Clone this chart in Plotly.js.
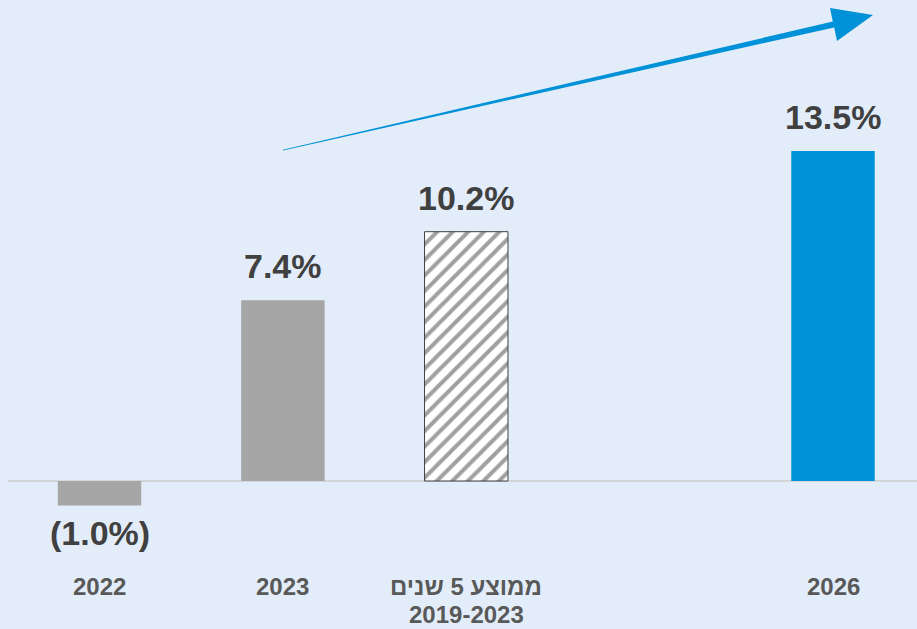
<!DOCTYPE html>
<html>
<head>
<meta charset="utf-8">
<script src="https://cdn.plot.ly/plotly-3.0.1.min.js"></script>
<style>
html,body{margin:0;padding:0;background:#e3edf9;}
#chart{width:917px;height:629px;}
</style>
</head>
<body>
<div id="chart"></div>
<script>
// Data
const positions = [0, 1, 2, 4];
const categoryLabels = ['2022', '2023', 'ממוצע 5 שנים<br>2019-2023', '2026'];
const values = [-1.0, 7.4, 10.2, 13.5];
const valueLabels = ['(1.0%)', '7.4%', '10.2%', '13.5%'];
const hatched = [false, false, true, false];

const W = 917, H = 629;
const mT = 0, mB = 69, mL = 0, mR = 0;
const plotH = H - mT - mB;
const BG = '#e3edf9';
const BLUE = '#0092d8';
const GREY = '#a6a6a6';
const FONT = 'Liberation Sans, Arial, sans-serif';
const barColors = [GREY, GREY, '#ffffff', BLUE];

function px(x){ return (x - mL) / (W - mL - mR); }
function py(y){ return (H - mB - y) / plotH; }

// decorative tapered arrow (pixel geometry -> paper coords)
const arrowPts = [
  [283.1, 150.4], [834.2, 27.4], [837, 41], [873, 15], [830, 8], [832.8, 21.6], [282.9, 149.8]
];
const arrowPath = 'M ' + arrowPts.map(p => px(p[0]).toFixed(5) + ',' + py(p[1]).toFixed(5)).join(' L ') + ' Z';

const idxSolid = positions.map((_, i) => i).filter(i => !hatched[i]);
const idxHatch = positions.map((_, i) => i).filter(i => hatched[i]);

const solidTrace = {
  type: 'bar',
  x: idxSolid.map(i => positions[i]),
  y: idxSolid.map(i => values[i]),
  width: 0.455,
  marker: {color: idxSolid.map(i => barColors[i]), line: {width: 0}},
  hoverinfo: 'none'
};

const hatchTrace = {
  type: 'bar',
  x: idxHatch.map(i => positions[i]),
  y: idxHatch.map(i => values[i]),
  width: 0.455,
  marker: {
    color: '#ffffff',
    line: {color: '#9c9c9c', width: 0},
    pattern: {shape: '/', fillmode: 'overlay', fgcolor: '#a0a0a0', fgopacity: 1, size: 11, solidity: 0.36}
  },
  hoverinfo: 'none'
};

const outlineTrace = {
  type: 'bar',
  x: idxHatch.map(i => positions[i]),
  y: idxHatch.map(i => values[i]),
  width: 0.455,
  marker: {color: 'rgba(0,0,0,0)', line: {color: '#404040', width: 1}},
  hoverinfo: 'none'
};

const valueAnnotations = positions.map((p, i) => ({
  x: p, y: values[i], xref: 'x', yref: 'y',
  text: valueLabels[i], showarrow: false,
  yanchor: values[i] >= 0 ? 'bottom' : 'top',
  yshift: values[i] >= 0 ? 13 : -7,
  font: {family: FONT, size: 34, color: '#404040', weight: 700}
}));

// category labels: one annotation per text line, with tight line spacing
const categoryAnnotations = [];
positions.forEach((p, i) => {
  categoryLabels[i].split('<br>').forEach((line, k) => {
    categoryAnnotations.push({
      x: p, y: 0, xref: 'x', yref: 'paper',
      text: line, showarrow: false,
      xanchor: 'center', yanchor: 'middle',
      borderpad: 0,
      yshift: -26 - 28 * k,
      font: {family: FONT, size: 24, color: '#595959', weight: 700}
    });
  });
});

const layout = {
  width: W, height: H,
  margin: {t: mT, b: mB, l: mL, r: mR, pad: 0},
  paper_bgcolor: BG,
  plot_bgcolor: BG,
  showlegend: false,
  barmode: 'overlay',
  xaxis: {
    range: [-0.5426, 4.458],
    tickvals: positions,
    showticklabels: false,
    showgrid: false, zeroline: false, showline: false,
    ticks: '',
    fixedrange: true
  },
  yaxis: {
    range: [-3.232, 19.68],
    showgrid: false, zeroline: false, showline: false,
    showticklabels: false, ticks: '',
    fixedrange: true
  },
  shapes: [
    {type: 'line', xref: 'x', yref: 'y', x0: -0.5, x1: 4.458, y0: 0, y1: 0,
     line: {color: '#d3d5d9', width: 2}, layer: 'below'},
    {type: 'path', xref: 'paper', yref: 'paper', path: arrowPath,
     fillcolor: BLUE, line: {width: 0}}
  ],
  annotations: valueAnnotations.concat(categoryAnnotations)
};

Plotly.newPlot('chart', [solidTrace, hatchTrace, outlineTrace], layout, {staticPlot: true, displayModeBar: false});
</script>
</body>
</html>
